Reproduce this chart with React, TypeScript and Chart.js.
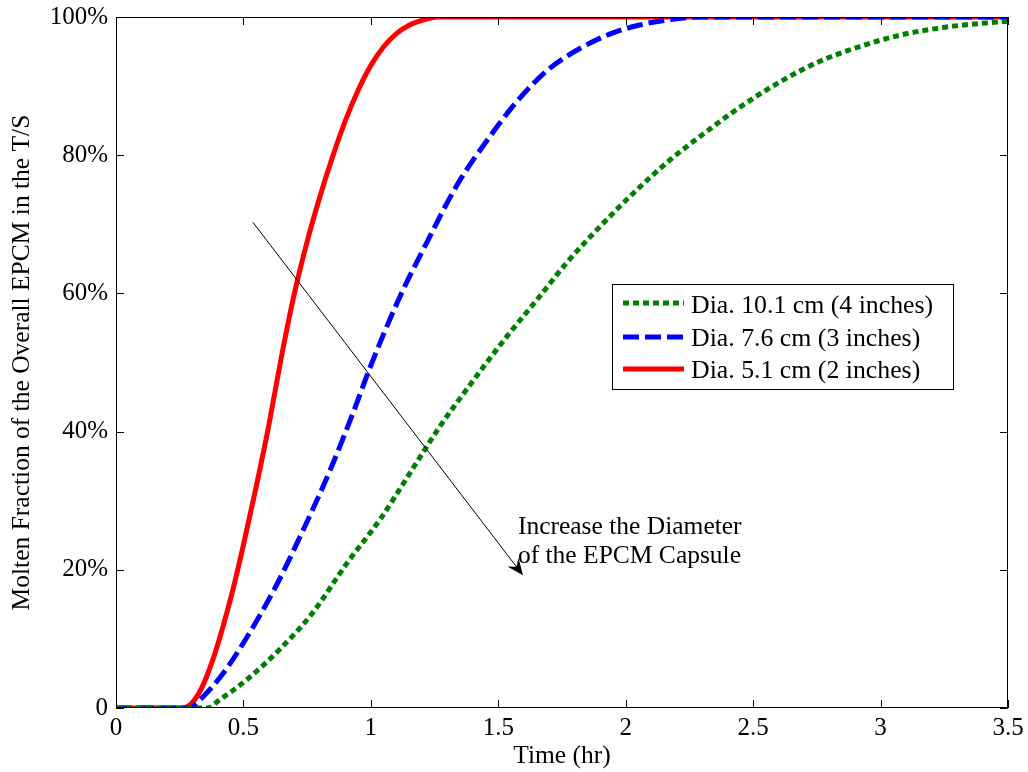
import React, { useEffect, useRef } from 'react';
import { Chart, registerables } from 'chart.js';

Chart.register(...registerables);

// ---------- data ----------
const seriesLabels = ['Dia. 10.1 cm (4 inches)', 'Dia. 7.6 cm (3 inches)', 'Dia. 5.1 cm (2 inches)'];

const greenTime = [0, 0.36, 0.4, 0.51, 0.64, 0.77, 0.905, 1.04, 1.15, 1.27, 1.4, 1.53, 1.65, 1.77, 1.9, 2.03, 2.17, 2.32, 2.45, 2.6, 2.75, 2.9, 3.08, 3.27, 3.5];
const greenFrac = [0, 0, 1, 4, 8.4, 13.7, 20.9, 27.5, 33.8, 40.7, 47.3, 53.6, 59, 64.5, 69.7, 74.5, 79.2, 83.5, 87.0, 90.5, 93.4, 95.5, 97.4, 98.6, 99.4];

const blueTime = [0, 0.29, 0.33, 0.42, 0.513, 0.63, 0.735, 0.84, 0.931, 0.996, 1.11, 1.22, 1.337, 1.467, 1.585, 1.703, 1.833, 1.95, 2.05, 2.15, 2.3, 3.5];
const blueFrac = [0, 0, 1.2, 5.0, 10.2, 17.8, 25.8, 34.4, 42.8, 49.2, 59.2, 67.4, 75.6, 82.7, 88.3, 92.6, 95.7, 97.7, 98.8, 99.5, 100, 100];

const redTime = [0, 0.26, 0.3, 0.34, 0.38, 0.42, 0.46, 0.5, 0.55, 0.6, 0.65, 0.7, 0.75, 0.8, 0.85, 0.9, 0.95, 1.0, 1.05, 1.1, 1.15, 1.2, 1.26, 3.5];
const redFrac = [0, 0, 0.8, 3.2, 7, 11.8, 17.3, 23.6, 32, 41, 51, 60, 67.5, 74, 79.8, 85, 89.4, 93, 95.7, 97.6, 98.8, 99.5, 100, 100];

const xTicks = [0, 0.5, 1, 1.5, 2, 2.5, 3, 3.5];
const xTickLabels = ['0', '0.5', '1', '1.5', '2', '2.5', '3', '3.5'];
const yTicks = [0, 20, 40, 60, 80, 100];
const yTickLabels = ['0', '20%', '40%', '60%', '80%', '100%'];

const xTitle = 'Time (hr)';
const yTitle = 'Molten Fraction of the Overall EPCM in the T/S';

const arrowStart = [0.537, 70.3];
const arrowEnd = [1.597, 19.2];
const noteLines = ['Increase the Diameter', 'of the EPCM Capsule'];
const noteAnchor = [1.577, 25.2, 21.0]; // x, baseline y line 1, baseline y line 2

// ---------- styles ----------
const FONT = '"Liberation Serif", "Times New Roman", serif';
const colors = ['#008000', '#0000ff', '#ff0000'];
const dashes = [[6, 4], [16, 6], []];

const toPoints = (t: number[], v: number[]) => t.map((x, i) => ({ x, y: v[i] }));

const boxPlugin = {
  id: 'boxTicks',
  afterDatasetsDraw(chart: any) {
    const { ctx, chartArea: a, scales } = chart;
    const xs = scales.x;
    const ys = scales.y;
    ctx.save();
    ctx.strokeStyle = '#000';
    ctx.lineWidth = 1;
    const tl = 8;
    ctx.beginPath();
    xTicks.forEach((v) => {
      const px = Math.round(xs.getPixelForValue(v)) + 0.5;
      ctx.moveTo(px, a.bottom);
      ctx.lineTo(px, a.bottom - tl);
      ctx.moveTo(px, a.top);
      ctx.lineTo(px, a.top + tl);
    });
    yTicks.forEach((v) => {
      const py = Math.round(ys.getPixelForValue(v)) + 0.5;
      ctx.moveTo(a.left, py);
      ctx.lineTo(a.left + tl, py);
      ctx.moveTo(a.right, py);
      ctx.lineTo(a.right - tl, py);
    });
    ctx.stroke();
    ctx.strokeRect(Math.round(a.left) + 0.5, Math.round(a.top) + 0.5, Math.round(a.width) - 1, Math.round(a.height) - 1);

    // arrow
    const x1 = xs.getPixelForValue(arrowStart[0]);
    const y1 = ys.getPixelForValue(arrowStart[1]);
    const x2 = xs.getPixelForValue(arrowEnd[0]);
    const y2 = ys.getPixelForValue(arrowEnd[1]);
    const ang = Math.atan2(y2 - y1, x2 - x1);
    const hl = 18;
    const hw = 0.4;
    ctx.beginPath();
    ctx.moveTo(x1, y1);
    ctx.lineTo(x2 - Math.cos(ang) * hl * 0.6, y2 - Math.sin(ang) * hl * 0.6);
    ctx.stroke();
    ctx.fillStyle = '#000';
    ctx.beginPath();
    ctx.moveTo(x2, y2);
    ctx.lineTo(x2 - hl * Math.cos(ang - hw), y2 - hl * Math.sin(ang - hw));
    ctx.lineTo(x2 - hl * 0.6 * Math.cos(ang), y2 - hl * 0.6 * Math.sin(ang));
    ctx.lineTo(x2 - hl * Math.cos(ang + hw), y2 - hl * Math.sin(ang + hw));
    ctx.closePath();
    ctx.fill();

    // annotation
    ctx.font = `25.5px ${FONT}`;
    ctx.textAlign = 'left';
    ctx.textBaseline = 'alphabetic';
    const tx = xs.getPixelForValue(noteAnchor[0]);
    ctx.fillText(noteLines[0], tx, ys.getPixelForValue(noteAnchor[1]));
    ctx.fillText(noteLines[1], tx, ys.getPixelForValue(noteAnchor[2]));

    // legend
    const L = 612, T = 284, R = 953, B = 389;
    ctx.fillStyle = '#fff';
    ctx.fillRect(L, T, R - L, B - T);
    ctx.strokeStyle = '#000';
    ctx.lineWidth = 1;
    ctx.strokeRect(L + 0.5, T + 0.5, R - L, B - T);
    ctx.font = `25.8px ${FONT}`;
    const rowsLine = [303, 337, 369];
    const rowsText = [313, 346, 378];
    seriesLabels.forEach((lab, i) => {
      ctx.save();
      ctx.strokeStyle = colors[i];
      ctx.lineWidth = 5;
      ctx.setLineDash(dashes[i]);
      ctx.beginPath();
      ctx.moveTo(623, rowsLine[i]);
      ctx.lineTo(684, rowsLine[i]);
      ctx.stroke();
      ctx.restore();
      ctx.fillStyle = '#000';
      ctx.fillText(lab, 691, rowsText[i]);
    });
    ctx.restore();
  },
};

export default function App() {
  const ref = useRef<HTMLCanvasElement | null>(null);
  useEffect(() => {
    if (!ref.current) return;
    const series = [
      toPoints(greenTime, greenFrac),
      toPoints(blueTime, blueFrac),
      toPoints(redTime, redFrac),
    ];
    const chart = new Chart(ref.current, {
      type: 'line',
      data: {
        datasets: series.map((d, i) => ({
          label: seriesLabels[i],
          data: d,
          borderColor: colors[i],
          backgroundColor: colors[i],
          borderWidth: 5,
          borderDash: dashes[i],
          borderCapStyle: 'butt',
          pointRadius: 0,
          fill: false,
          cubicInterpolationMode: 'monotone',
          clip: 0,
        })),
      },
      options: {
        animation: false,
        responsive: false,
        maintainAspectRatio: false,
        layout: { padding: { top: 17, right: 20, left: 0, bottom: 0 } },
        plugins: { legend: { display: false }, tooltip: { enabled: false } },
        scales: {
          x: {
            type: 'linear',
            min: 0,
            max: 3.5,
            afterFit: (s: any) => { s.height = 64; s.paddingLeft = 0; s.paddingRight = 0; },
            afterBuildTicks: (s: any) => { s.ticks = xTicks.map((v) => ({ value: v })); },
            grid: { display: false, drawTicks: false },
            border: { display: false },
            ticks: {
              padding: 5,
              color: '#000',
              font: { family: FONT, size: 25 },
              maxRotation: 0,
              autoSkip: false,
              callback: (v: any) => xTickLabels[xTicks.indexOf(Number(v))] ?? '',
            },
            title: {
              display: true,
              text: xTitle,
              color: '#000',
              font: { family: FONT, size: 25.5 },
              padding: { top: 0, bottom: 0 },
            },
          },
          y: {
            type: 'linear',
            min: 0,
            max: 100,
            afterFit: (s: any) => { s.width = 116; s.paddingTop = 0; s.paddingBottom = 0; },
            afterBuildTicks: (s: any) => { s.ticks = yTicks.map((v) => ({ value: v })); },
            grid: { display: false, drawTicks: false },
            border: { display: false },
            ticks: {
              padding: 8,
              color: '#000',
              font: { family: FONT, size: 25 },
              autoSkip: false,
              callback: (v: any) => yTickLabels[yTicks.indexOf(Number(v))] ?? '',
            },
            title: {
              display: true,
              text: yTitle,
              color: '#000',
              font: { family: FONT, size: 25.5 },
              padding: { top: 7, bottom: 0 },
            },
          },
        },
      },
      plugins: [boxPlugin],
    } as any);
    return () => chart.destroy();
  }, []);
  return (
    <div style={{ position: 'fixed', left: 0, top: 0, width: 1028, height: 772, background: '#fff' }}>
      <canvas ref={ref} width={1028} height={772} style={{ width: 1028, height: 772, display: 'block' }} />
    </div>
  );
}
